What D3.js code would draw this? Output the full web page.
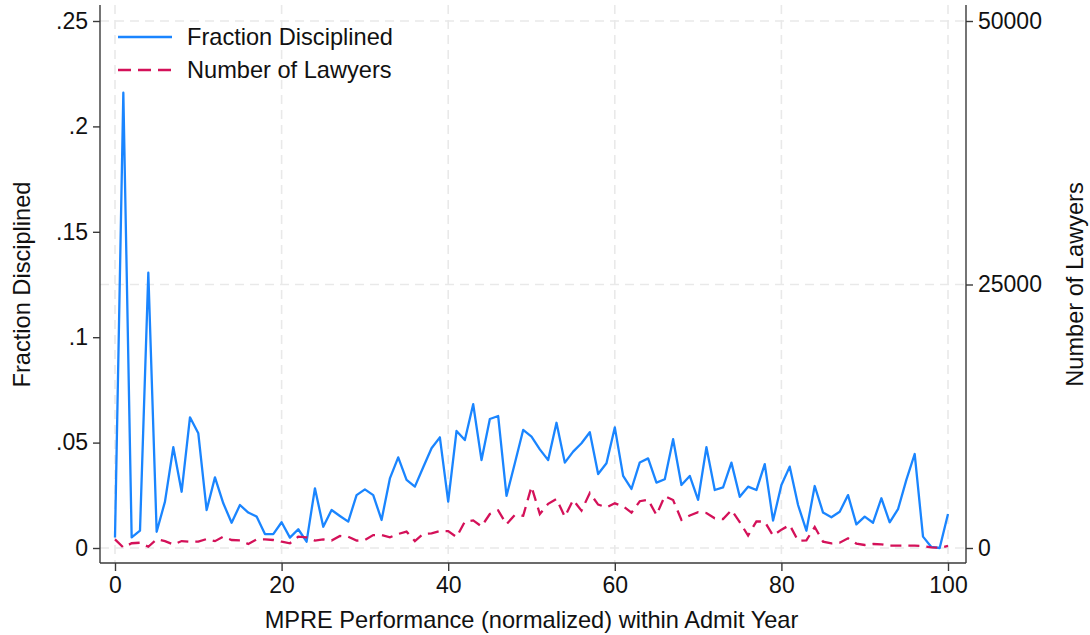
<!DOCTYPE html>
<html>
<head>
<meta charset="utf-8">
<script src="https://cdn.jsdelivr.net/npm/d3@7"></script>
<style>
  html, body { margin: 0; padding: 0; background: #fff; }
  svg { display: block; font-family: "Liberation Sans", Arial, Helvetica, sans-serif; }
</style>
</head>
<body>
<svg id="chart" width="1090" height="635"></svg>
<script>
// MPRE percentile bins (0–100)
const percentile = d3.range(0, 101);

// Share of lawyers disciplined in each percentile bin
const fractionDisciplined = [
  0.005, 0.216, 0.005, 0.0082, 0.1306, 0.0077, 0.022, 0.0478, 0.0267, 0.062,
  0.0544, 0.018, 0.0335, 0.0212, 0.012, 0.0204, 0.0168, 0.0149, 0.0066, 0.0066,
  0.0122, 0.0049, 0.0089, 0.003, 0.0283, 0.0101, 0.018, 0.0152, 0.0125, 0.0251,
  0.0278, 0.0251, 0.0133, 0.033, 0.043, 0.0323, 0.0291, 0.0383, 0.0473, 0.0525,
  0.022, 0.0555, 0.0512, 0.0682, 0.0417, 0.0612, 0.0626, 0.0247, 0.0402, 0.056,
  0.0528, 0.0468, 0.0417, 0.0594, 0.0405, 0.0457, 0.0497, 0.0549, 0.0351, 0.0402,
  0.0572, 0.0342, 0.028, 0.0406, 0.0425, 0.031, 0.0326, 0.0516, 0.0299, 0.0342,
  0.0228, 0.0478, 0.0275, 0.0288, 0.0405, 0.0243, 0.0291, 0.0275, 0.0398, 0.013,
  0.0299, 0.0386, 0.0204, 0.0082, 0.0294, 0.0168, 0.0146, 0.0172, 0.0251, 0.0112,
  0.0149, 0.012, 0.0236, 0.0122, 0.0184, 0.0323, 0.0446, 0.0054, 0.0005, 0.0,
  0.0161
];

// Number of lawyers in each percentile bin
const numberOfLawyers = [
  825, 50, 450, 500, 120, 825, 650, 330, 660, 600,
  600, 850, 650, 1070, 760, 720, 380, 825, 825, 760,
  600, 450, 1070, 1010, 700, 825, 700, 1140, 1070, 700,
  760, 1230, 1230, 1010, 1330, 1550, 660, 1330, 1390, 1600,
  1600, 1040, 2500, 2620, 2050, 3225, 3560, 2260, 3130, 3050,
  5820, 3225, 4190, 4660, 2970, 4550, 3540, 5220, 4120, 3860,
  4240, 3960, 3350, 4440, 4580, 3130, 4930, 4550, 2660, 3090,
  3400, 3320, 2820, 2740, 3600, 2460, 1180, 2530, 2500, 1180,
  1740, 2180, 680, 730, 1990, 600, 440, 500, 920, 420,
  285, 380, 350, 220, 220, 220, 220, 190, 60, 30,
  190
];

// Axis ticks and labels
const xTicks = [0, 20, 40, 60, 80, 100];
const leftTicks = [0, 0.05, 0.1, 0.15, 0.2, 0.25];
const leftTickLabels = ["0", ".05", ".1", ".15", ".2", ".25"];
const rightTicks = [0, 25000, 50000];
const rightTickLabels = ["0", "25000", "50000"];

const seriesNames = ["Fraction Disciplined", "Number of Lawyers"];
const blue = "#1a85ff";
const red = "#d41159";
const gridColor = "#e9e9e9";
const axisColor = "#3a3a3a";
const tickFontSize = 23;
const labelFontSize = 23.6;

const svg = d3.select("#chart");

// Plot geometry
const plot = { left: 100, right: 966, top: 5, bottom: 563 };

const x = d3.scaleLinear().domain([0, 100]).range([115, 948]);
const yL = d3.scaleLinear().domain([0, 0.25]).range([548, 21]);
const yR = d3.scaleLinear().domain([0, 50000]).range([548, 21]);

// Grid lines
const grid = svg.append("g");
grid.selectAll("line.v").data(xTicks).join("line")
  .attr("x1", d => x(d)).attr("x2", d => x(d))
  .attr("y1", plot.top).attr("y2", plot.bottom)
  .attr("stroke", gridColor).attr("stroke-width", 1.6)
  .attr("stroke-dasharray", "9,6");
grid.selectAll("line.h").data(rightTicks).join("line")
  .attr("x1", plot.left).attr("x2", plot.right)
  .attr("y1", d => yR(d)).attr("y2", d => yR(d))
  .attr("stroke", gridColor).attr("stroke-width", 1.6)
  .attr("stroke-dasharray", "9,6");

// Axes
function styleAxis(g) {
  g.select(".domain").remove();
  g.selectAll(".tick line").attr("stroke", axisColor).attr("stroke-width", 1.4);
  g.selectAll(".tick text").attr("fill", "#111").attr("font-size", tickFontSize)
    .attr("font-family", "Liberation Sans, Arial, sans-serif");
}

svg.append("g")
  .attr("transform", `translate(${plot.left},0)`)
  .call(d3.axisLeft(yL).tickValues(leftTicks)
    .tickFormat((d, i) => leftTickLabels[i]).tickSize(7).tickPadding(5))
  .call(styleAxis);

svg.append("g")
  .attr("transform", `translate(${plot.right},0)`)
  .call(d3.axisRight(yR).tickValues(rightTicks)
    .tickFormat((d, i) => rightTickLabels[i]).tickSize(7).tickPadding(5))
  .call(styleAxis);

svg.append("g")
  .attr("transform", `translate(0,${plot.bottom})`)
  .call(d3.axisBottom(x).tickValues(xTicks).tickFormat(d3.format("d"))
    .tickSize(8).tickPadding(6))
  .call(styleAxis);

// Spines
const spines = svg.append("g").attr("stroke", axisColor).attr("stroke-width", 1.4);
spines.append("line").attr("x1", plot.left).attr("x2", plot.left)
  .attr("y1", plot.top).attr("y2", plot.bottom);
spines.append("line").attr("x1", plot.right).attr("x2", plot.right)
  .attr("y1", plot.top).attr("y2", plot.bottom);
spines.append("line").attr("x1", plot.left).attr("x2", plot.right)
  .attr("y1", plot.bottom).attr("y2", plot.bottom);

// Series lines
const lineL = d3.line().x((d, i) => x(percentile[i])).y(d => yL(d));
const lineR = d3.line().x((d, i) => x(percentile[i])).y(d => yR(d));

svg.append("path").datum(fractionDisciplined)
  .attr("d", lineL).attr("fill", "none")
  .attr("stroke", blue).attr("stroke-width", 2.3).attr("stroke-linejoin", "round");

svg.append("path").datum(numberOfLawyers)
  .attr("d", lineR).attr("fill", "none")
  .attr("stroke", red).attr("stroke-width", 2.3)
  .attr("stroke-dasharray", "11,7");

// Axis titles
svg.append("text")
  .attr("x", x(50)).attr("y", 628)
  .attr("text-anchor", "middle").attr("font-size", labelFontSize).attr("fill", "#111")
  .text("MPRE Performance (normalized) within Admit Year");

svg.append("text")
  .attr("transform", `translate(30,${yL(0.125)}) rotate(-90)`)
  .attr("text-anchor", "middle").attr("font-size", labelFontSize).attr("fill", "#111")
  .text("Fraction Disciplined");

svg.append("text")
  .attr("transform", `translate(1083,${yR(25000)}) rotate(-90)`)
  .attr("text-anchor", "middle").attr("font-size", labelFontSize).attr("fill", "#111")
  .text("Number of Lawyers");

// Legend
const legend = svg.append("g");
const legendItems = [
  { name: seriesNames[0], color: blue, dash: null, y: 37 },
  { name: seriesNames[1], color: red, dash: "13,7", y: 70 }
];
legend.selectAll("line").data(legendItems).join("line")
  .attr("x1", 118).attr("x2", 172)
  .attr("y1", d => d.y).attr("y2", d => d.y)
  .attr("stroke", d => d.color).attr("stroke-width", 2.3)
  .attr("stroke-dasharray", d => d.dash);
legend.selectAll("text").data(legendItems).join("text")
  .attr("x", 187).attr("y", d => d.y + 8)
  .attr("font-size", labelFontSize).attr("fill", "#111")
  .text(d => d.name);
</script>
</body>
</html>
